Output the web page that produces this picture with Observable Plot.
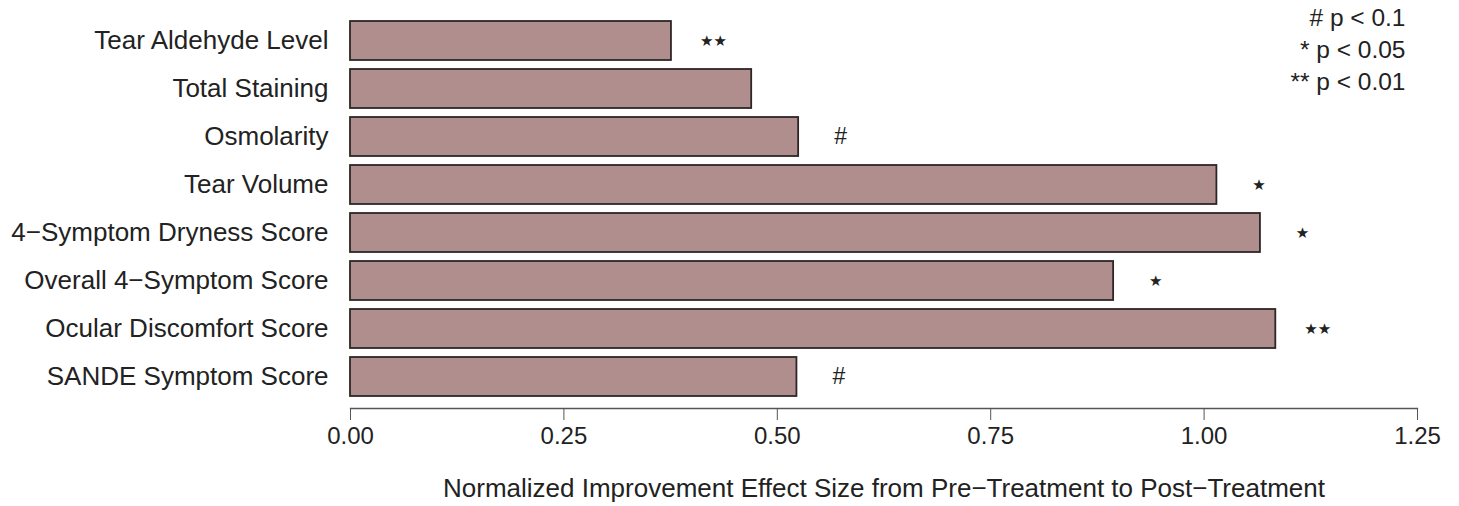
<!DOCTYPE html>
<html>
<head>
<meta charset="utf-8">
<script src="https://cdn.jsdelivr.net/npm/d3@7"></script>
<script src="https://cdn.jsdelivr.net/npm/@observablehq/plot@0.6"></script>
<style>
  html, body { margin: 0; padding: 0; background: #fff; }
  #chart { width: 1459px; height: 506px; }
</style>
</head>
<body>
<div id="chart"></div>
<script>
const categories = [
  "Tear Aldehyde Level",
  "Total Staining",
  "Osmolarity",
  "Tear Volume",
  "4\u2212Symptom Dryness Score",
  "Overall 4\u2212Symptom Score",
  "Ocular Discomfort Score",
  "SANDE Symptom Score"
];
const effectSizes = [0.376, 0.470, 0.525, 1.015, 1.066, 0.894, 1.084, 0.523];
const significance = ["**", "", "#", "*", "*", "*", "**", "#"];
const xTicks = [0, 0.25, 0.5, 0.75, 1.0, 1.25];
const xTitle = "Normalized Improvement Effect Size from Pre\u2212Treatment to Post\u2212Treatment";
const legendLines = ["# p < 0.1", "* p < 0.05", "** p < 0.01"];

const data = categories.map((c, i) => ({category: c, value: effectSizes[i], sig: significance[i]}));
const stars = data.filter(d => d.sig.includes("*"));
const hashes = data.filter(d => d.sig === "#");

const chart = Plot.plot({
  width: 1459,
  height: 506,
  marginLeft: 350,
  marginRight: 42,
  marginTop: 9,
  marginBottom: 98,
  style: {fontFamily: "'Liberation Sans', Arial, Helvetica, sans-serif", fontSize: "24px", color: "#222", background: "#fff"},
  x: {domain: [0, 1.25]},
  y: {domain: categories, padding: 0.18},
  marks: [
    Plot.barX(data, {x: "value", y: "category", fill: "#b08e8d", stroke: "#2e2626", strokeWidth: 1.8}),
    Plot.text(stars, {x: "value", y: "category", text: d => d.sig.replace(/\*/g, "\u2605"), dx: 42, fontSize: 15, fontFamily: "DejaVu Sans", fill: "#222"}),
    Plot.text(hashes, {x: "value", y: "category", text: "sig", dx: 42, fontSize: 23, fill: "#222"}),
    Plot.frame({anchor: "bottom", stroke: "#555", strokeWidth: 1.3}),
    Plot.axisX(xTicks, {anchor: "bottom", tickSize: 12, tickPadding: 6, tickFormat: d3.format(".2f"), fontSize: 24, label: null, stroke: "#555"}),
    Plot.axisY({anchor: "left", tickSize: 0, tickPadding: 22, fontSize: 26, label: null}),
    Plot.text([xTitle], {frameAnchor: "bottom", dy: 88, fontSize: 26, fill: "#222"}),
    Plot.text([legendLines.join("\n")], {frameAnchor: "top-right", dx: -12, dy: -6, lineAnchor: "top", lineHeight: 1.3, textAnchor: "end", fontSize: 24.5, fill: "#222"})
  ]
});
document.getElementById("chart").appendChild(chart);
</script>
</body>
</html>
